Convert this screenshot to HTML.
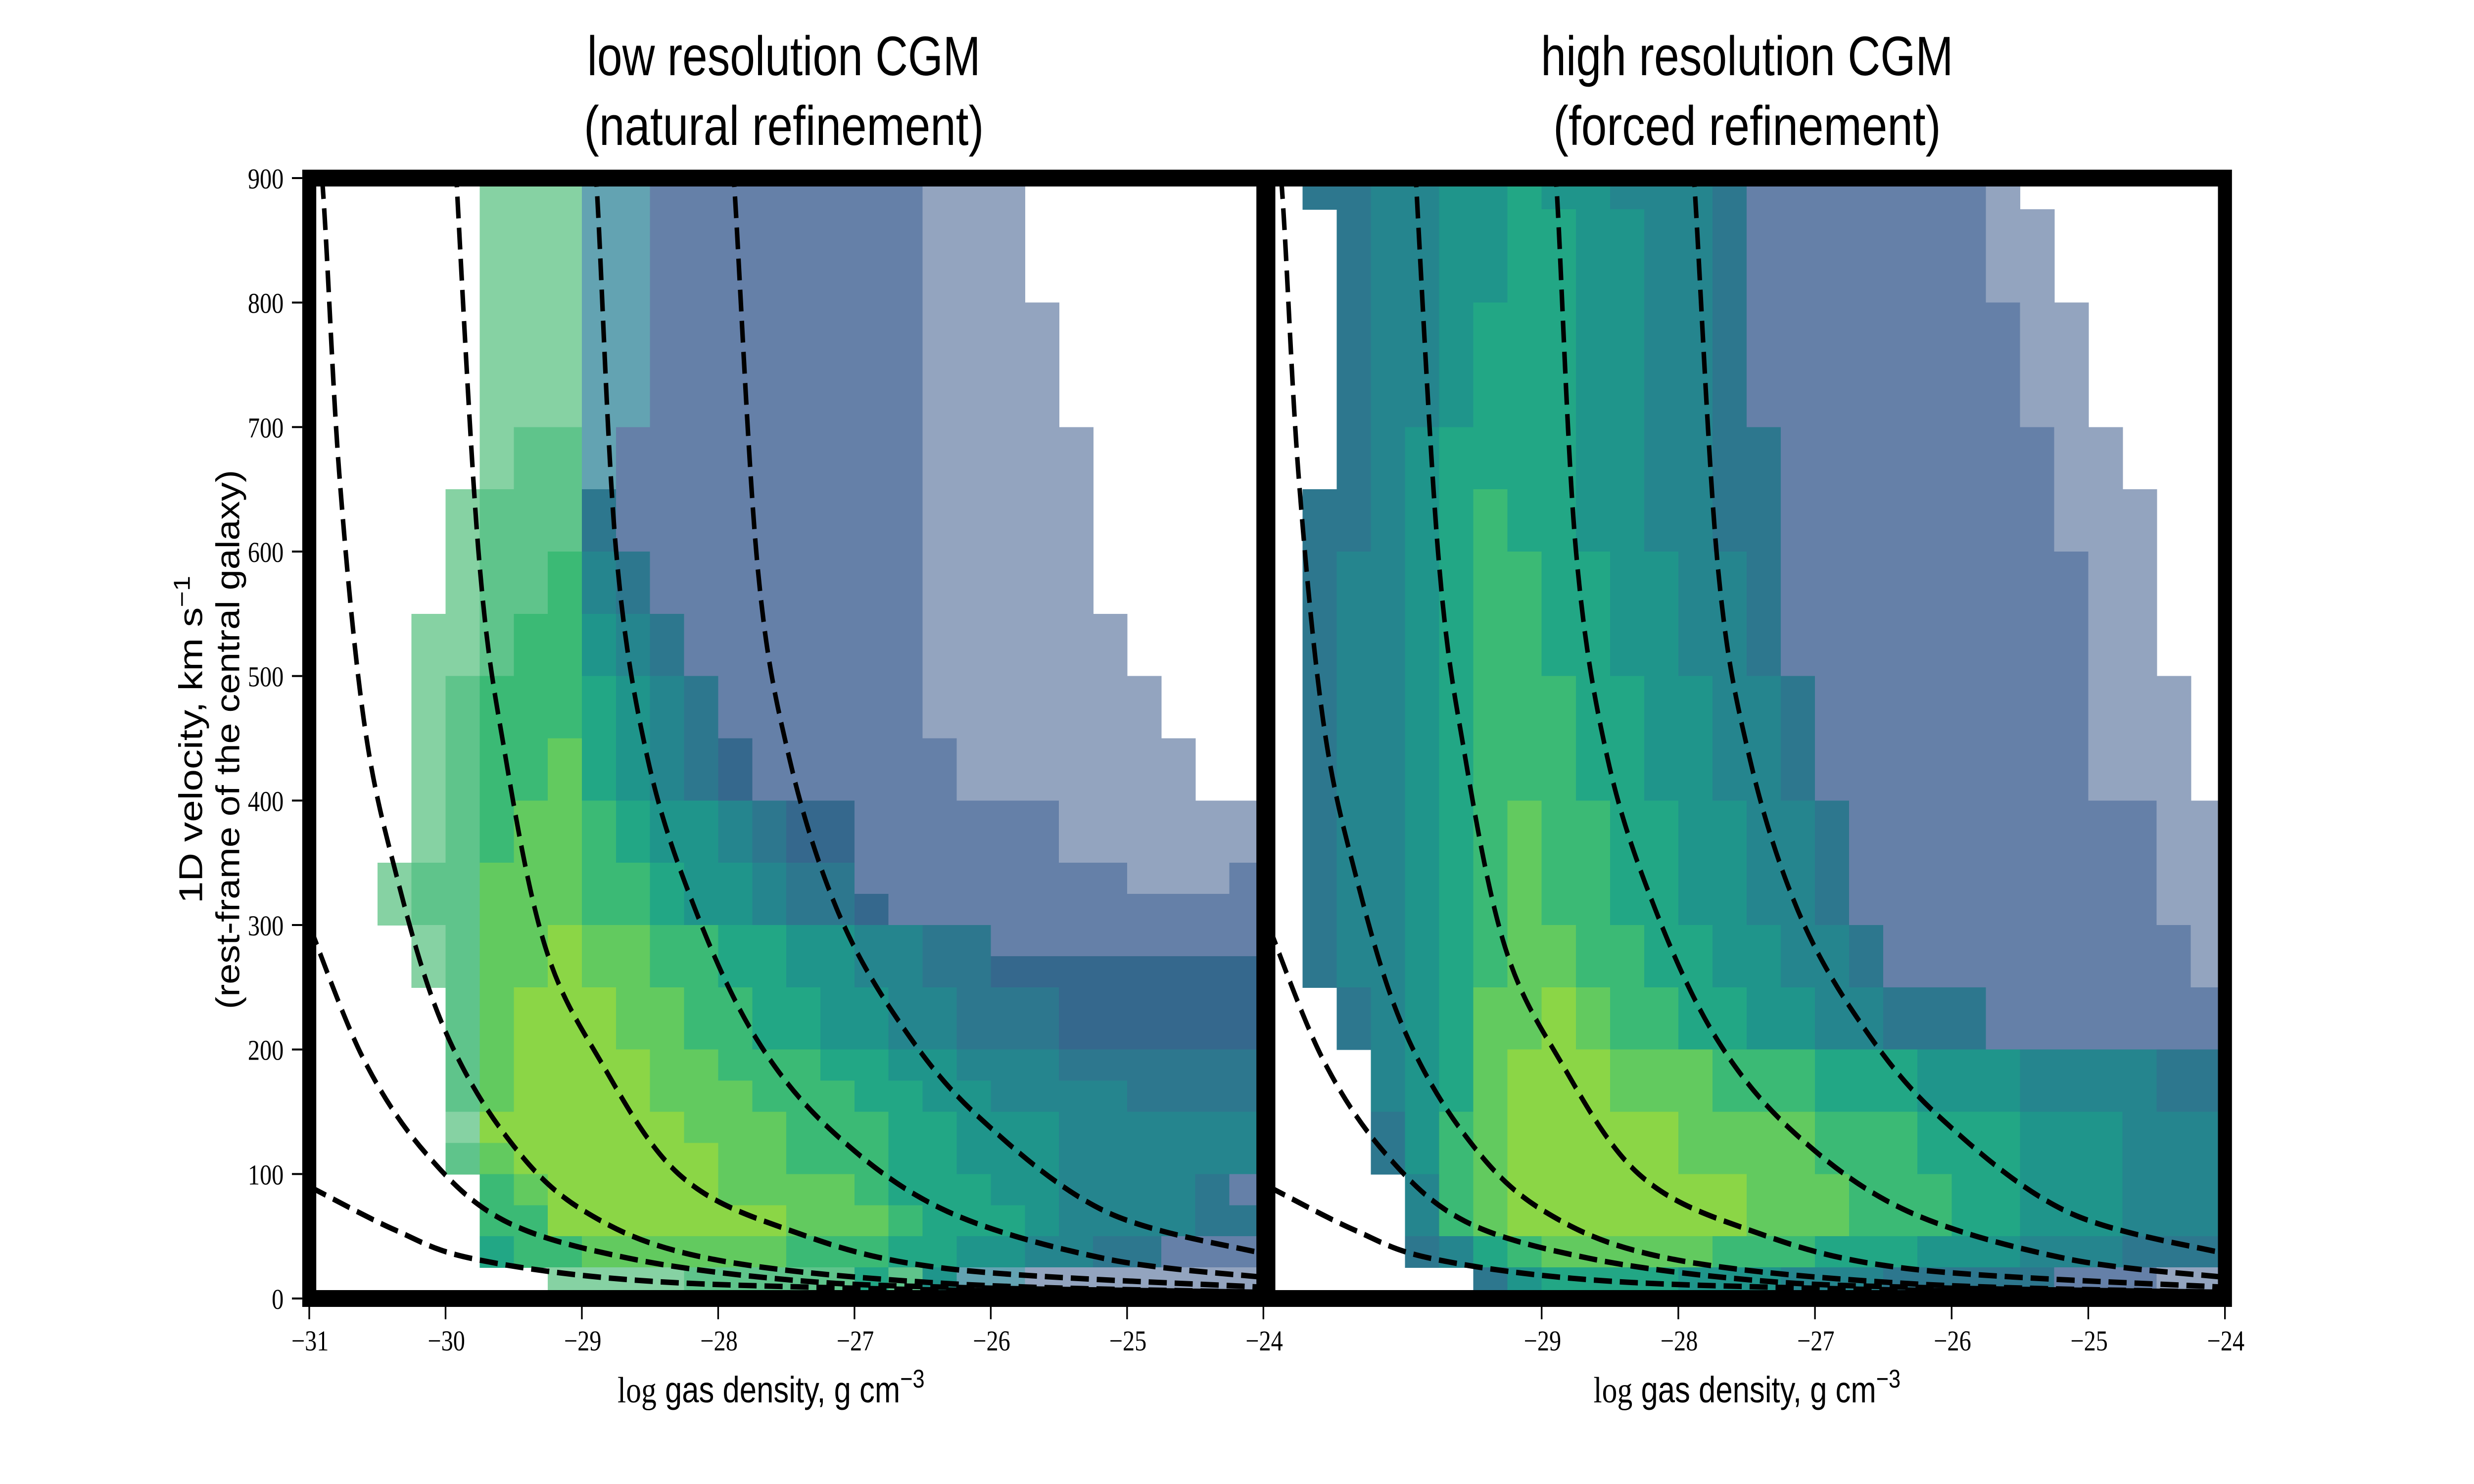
<!DOCTYPE html>
<html>
<head>
<meta charset="utf-8">
<style>
html,body{margin:0;padding:0;background:#fff;width:100%;height:100%;overflow:hidden;}
svg{display:block;width:100vw;height:100vh;}
text{font-family:"Liberation Sans",sans-serif;}
.serif{font-family:"Liberation Serif",serif;}
</style>
</head>
<body>
<svg id="fig" xmlns="http://www.w3.org/2000/svg" viewBox="0 0 6000 3000" preserveAspectRatio="none">
  <rect x="0" y="0" width="6000" height="3000" fill="#fff"/>
  <defs>
    <clipPath id="clipL"><rect x="750" y="360" width="2314" height="2265"/></clipPath>
    <clipPath id="clipR"><rect x="3076" y="360" width="2320" height="2265"/></clipPath>
  </defs>
  <g id="panelL"></g>
  <g id="panelR"></g>

  <text x="1901" y="152" font-size="112" text-anchor="middle" textLength="954" lengthAdjust="spacingAndGlyphs">low resolution CGM</text>
  <text x="1901" y="293" font-size="112" text-anchor="middle" textLength="970" lengthAdjust="spacingAndGlyphs">(natural refinement)</text>
  <text x="4237" y="152" font-size="112" text-anchor="middle" textLength="1000" lengthAdjust="spacingAndGlyphs">high resolution CGM</text>
  <text x="4237" y="293" font-size="112" text-anchor="middle" textLength="940" lengthAdjust="spacingAndGlyphs">(forced refinement)</text>

  <text x="1870" y="2835" font-size="74" text-anchor="middle"><tspan class="serif">log</tspan> gas density, g cm<tspan dy="-30" font-size="52">−3</tspan></text>
  <text x="4237" y="2835" font-size="74" text-anchor="middle"><tspan class="serif">log</tspan> gas density, g cm<tspan dy="-30" font-size="52">−3</tspan></text>

  <g transform="translate(490,1495) rotate(-90)">
    <text x="0" y="0" font-size="80" text-anchor="middle">1D velocity, km s<tspan dy="-30" font-size="56">−1</tspan></text>
  </g>
  <g transform="translate(580,1495) rotate(-90)">
    <text x="0" y="0" font-size="80" text-anchor="middle" textLength="1090" lengthAdjust="spacingAndGlyphs">(rest-frame of the central galaxy)</text>
  </g>
</svg>
<script>
// ---- data ----
const yTicks = [0,100,200,300,400,500,600,700,800,900];
const xTicksLeft = [-31,-30,-29,-28,-27,-26,-25,-24];
const xTicksRight = [-29,-28,-27,-26,-25,-24];
const xMin = -31, xMax = -24, vMin = 0, vMax = 900;
const binDx = 0.25, binDv = 25;

// dashed reference curves: log density values and velocity values
const curveA_x = [-31,-30.9,-30.78,-30.6,-30.37,-30.03,-29.56,-28.98,-28.06,-26.32,-24];
const curveA_v = [1000,891,663,465,344,222,131,70,32,12,5];
const curveB_x = [-29.95,-29.76,-29.56,-29.27,-28.87,-28.29,-27.48,-26.32,-24];
const curveB_v = [960,602,435,283,192,100,55,24,9];
const curveC_x = [-28.95,-28.89,-28.75,-28.52,-28.17,-27.71,-27.13,-26.32,-25.16,-24];
const curveC_v = [960,891,602,435,313,207,131,70,32,17];
const curveD_x = [-27.93,-27.88,-27.71,-27.48,-27.13,-26.67,-26.09,-25.16,-24];
const curveD_v = [960,891,587,435,313,222,146,70,36];
const curveE_x = [-31,-30.6,-30.14,-29.56,-28.64,-27.48,-26.3,-24];
const curveE_v = [300,192,116,62,32,15,9,5];
const curveF_x = [-31,-30.37,-29.8,-28.64,-26.9,-24];
const curveF_v = [90,55,32,15,8,3];

// heatmap levels: rows top (875-900) to bottom (0-25), columns 0.25 dex from -31
const heatLeft = [
".....gggttBBBBBBBBbbb.......",
".....gggttBBBBBBBBbbb.......",
".....gggttBBBBBBBBbbb.......",
".....gggttBBBBBBBBbbb.......",
".....gggttBBBBBBBBbbbb......",
".....gggttBBBBBBBBbbbb......",
".....gggttBBBBBBBBbbbb......",
".....gggttBBBBBBBBbbbb......",
".....gGGtBBBBBBBBBbbbbb.....",
".....gGGtBBBBBBBBBbbbbb.....",
"....gGGG3BBBBBBBBBbbbbb.....",
"....gGGG3BBBBBBBBBbbbbb.....",
"....gGG743BBBBBBBBbbbbb.....",
"....gGG743BBBBBBBBbbbbb.....",
"...ggG77543BBBBBBBbbbbbb....",
"...ggG77543BBBBBBBbbbbbb....",
"...gG7776543BBBBBBbbbbbbb...",
"...gG7776543BBBBBBbbbbbbb...",
"...gG77865432BBBBBBbbbbbbb..",
"...gG77865432BBBBBBbbbbbbb..",
"...gG78876554322BBBBBBbbbbbb",
"...gG78876554322BBBBBBbbbbbb",
"..gGG88877655433BBBBBBBBbbbB",
"..gGG888776554332BBBBBBBBBBB",
"...gG889887766554433BBBBBBBB",
"...gG88988776655443322222222",
"....G89998877665544333222222",
"....G89998877665544333222222",
"....G89999887776655444333333",
"....G89999888777665544443333",
"....g99999988877766555444444",
"....G89999998877766555444444",
".....7899999888876665544443B",
".....77999999988876665444433",
".....67788888877766554433BBB",
".......ggggGGGGG6G5ttbbbbbbb"
];
const heatRight = [
".3344556554443BBBBBBBb......",
"..344556655443BBBBBBBbb.....",
"..344556655443BBBBBBBbb.....",
"..344556655443BBBBBBBbb.....",
"..344566655443BBBBBBBBbb....",
"..344566655443BBBBBBBBbb....",
"..344566655443BBBBBBBBbb....",
"..344566655443BBBBBBBBbb....",
"..3456666554433BBBBBBBBbb...",
"..3456666554433BBBBBBBBbb...",
".33456766554433BBBBBBBBbbb..",
".33456766554433BBBBBBBBbbb..",
".34456776655443BBBBBBBBBbb..",
".34456776655443BBBBBBBBBbb..",
".34456776655443BBBBBBBBBbb..",
".34456776655443BBBBBBBBBbb..",
".344567776655443BBBBBBBBbbb.",
".344567776655443BBBBBBBBbbb.",
".344567776655443BBBBBBBBbbb.",
".344567776655443BBBBBBBBbbb.",
".3445678776655443BBBBBBBBBbb",
".3445678776655443BBBBBBBBBbb",
".3445678776655443BBBBBBBBBbb",
".3445678776655443BBBBBBBBBbb",
".34456788776655443BBBBBBBBBb",
".34456788776655443BBBBBBBBBb",
"..3456889877665544333BBBBBBB",
"..3456889877665544333BBBBBBB",
"...4568999888777666555444433",
"...4568999888777666555444433",
"...3578999998888777666555444",
"...3578999998888777666555444",
"....478999999988877766555444",
"....478999999988877766555444",
"....346788888777666555444333",
"......35666655544433333BBBbb"
];

// ---- rendering ----
const NS = "http://www.w3.org/2000/svg";
const palette = {'1':'#3b5b8b','2':'#35688d','3':'#2d778e','4':'#25858e','5':'#1f958b','6':'#22a785','7':'#3bba75','8':'#62ca5f','9':'#8bd646','B':'#6580a8','b':'#93a4bf','g':'#86d2a3','G':'#5fc48b','t':'#63a3b2'};
const Y0 = 2625, Y1 = 360;
function yScale(v){ return Y0 - (v - vMin) / (vMax - vMin) * (Y0 - Y1); }
function makeXScale(px0, px1){ return function(x){ return px0 + (x - xMin) / (xMax - xMin) * (px1 - px0); }; }
const panels = [
  {g:document.getElementById('panelL'), px0:750, px1:3064, heat:heatLeft, ticks:xTicksLeft, yticks:true, clip:'clipL', side:'left'},
  {g:document.getElementById('panelR'), px0:3076, px1:5396, heat:heatRight, ticks:xTicksRight, yticks:false, clip:'clipR', side:'right'}
];
const curves = [[curveA_x,curveA_v],[curveB_x,curveB_v],[curveC_x,curveC_v],[curveD_x,curveD_v],[curveE_x,curveE_v],[curveF_x,curveF_v]];
const curveNames = ['curve-a','curve-b','curve-c','curve-d','curve-e','curve-f'];

function el(tag, attrs, parent){
  const e = document.createElementNS(NS, tag);
  for (const k in attrs) e.setAttribute(k, attrs[k]);
  parent.appendChild(e);
  return e;
}
function smoothPath(pts){
  let d = 'M' + pts[0][0].toFixed(1) + ',' + pts[0][1].toFixed(1);
  for (let i = 0; i < pts.length - 1; i++){
    const p0 = pts[i-1] || pts[i], p1 = pts[i], p2 = pts[i+1], p3 = pts[i+2] || p2;
    const c1x = p1[0] + (p2[0]-p0[0])/6, c1y = p1[1] + (p2[1]-p0[1])/6;
    const c2x = p2[0] - (p3[0]-p1[0])/6, c2y = p2[1] - (p3[1]-p1[1])/6;
    d += ' C' + c1x.toFixed(1)+','+c1y.toFixed(1)+' '+c2x.toFixed(1)+','+c2y.toFixed(1)+' '+p2[0].toFixed(1)+','+p2[1].toFixed(1);
  }
  return d;
}

panels.forEach(function(P){
  const xs = makeXScale(P.px0, P.px1);
  const heatG = el('g', {'clip-path':'url(#'+P.clip+')', 'shape-rendering':'crispEdges'}, P.g);
  
  
  const nCols = Math.round((xMax - xMin) / binDx);
  P.heat.forEach(function(row, r){
    const vTop = vMax - r * binDv, vBot = vTop - binDv;
    for (let c = 0; c < nCols; c++){
      const ch = row[c] || '.';
      if (ch === '.' || !palette[ch]) continue;
      const xa = xs(xMin + c * binDx), xb = xs(xMin + (c+1) * binDx);
      const rect = el('rect', {x:xa.toFixed(1), y:yScale(vTop).toFixed(1), width:(xb-xa+1).toFixed(1), height:(yScale(vBot)-yScale(vTop)+1).toFixed(1), fill:palette[ch]}, heatG);
      
      
    }
  });
  const curveG = el('g', {'clip-path':'url(#'+P.clip+')'}, P.g);
  
  
  curves.forEach(function(cv, i){
    const pts = cv[0].map(function(x, j){ return [xs(x), yScale(cv[1][j])]; });
    const path = el('path', {d:smoothPath(pts), fill:'none', stroke:'#000', 'stroke-width':11, 'stroke-dasharray':'44 19'}, curveG);
    
    
  });
  const frame = el('rect', {x:P.px0, y:Y1, width:P.px1-P.px0, height:Y0-Y1, fill:'none', stroke:'#000', 'stroke-width':34}, P.g);
  
  
  P.ticks.forEach(function(t){
    const x = xs(t);
    const tk = el('line', {x1:x, y1:Y0+17, x2:x, y2:Y0+42, stroke:'#000', 'stroke-width':4}, P.g);
    
    
    const lb = el('text', {x:x+2, y:2730, 'font-size':58, 'text-anchor':'middle', 'class':'serif'}, P.g);
    lb.textContent = (t < 0 ? '\u2212' + Math.abs(t) : String(t));
    
    
  });
  if (P.yticks){
    yTicks.forEach(function(v){
      const y = yScale(v);
      const tk = el('line', {x1:P.px0-17, y1:y, x2:P.px0-42, y2:y, stroke:'#000', 'stroke-width':4}, P.g);
      
      
      const lb = el('text', {x:688, y:y+21, 'font-size':58, 'text-anchor':'end', 'class':'serif'}, P.g);
      lb.textContent = String(v);
      
      
    });
  }
});
</script>
</body>
</html>
